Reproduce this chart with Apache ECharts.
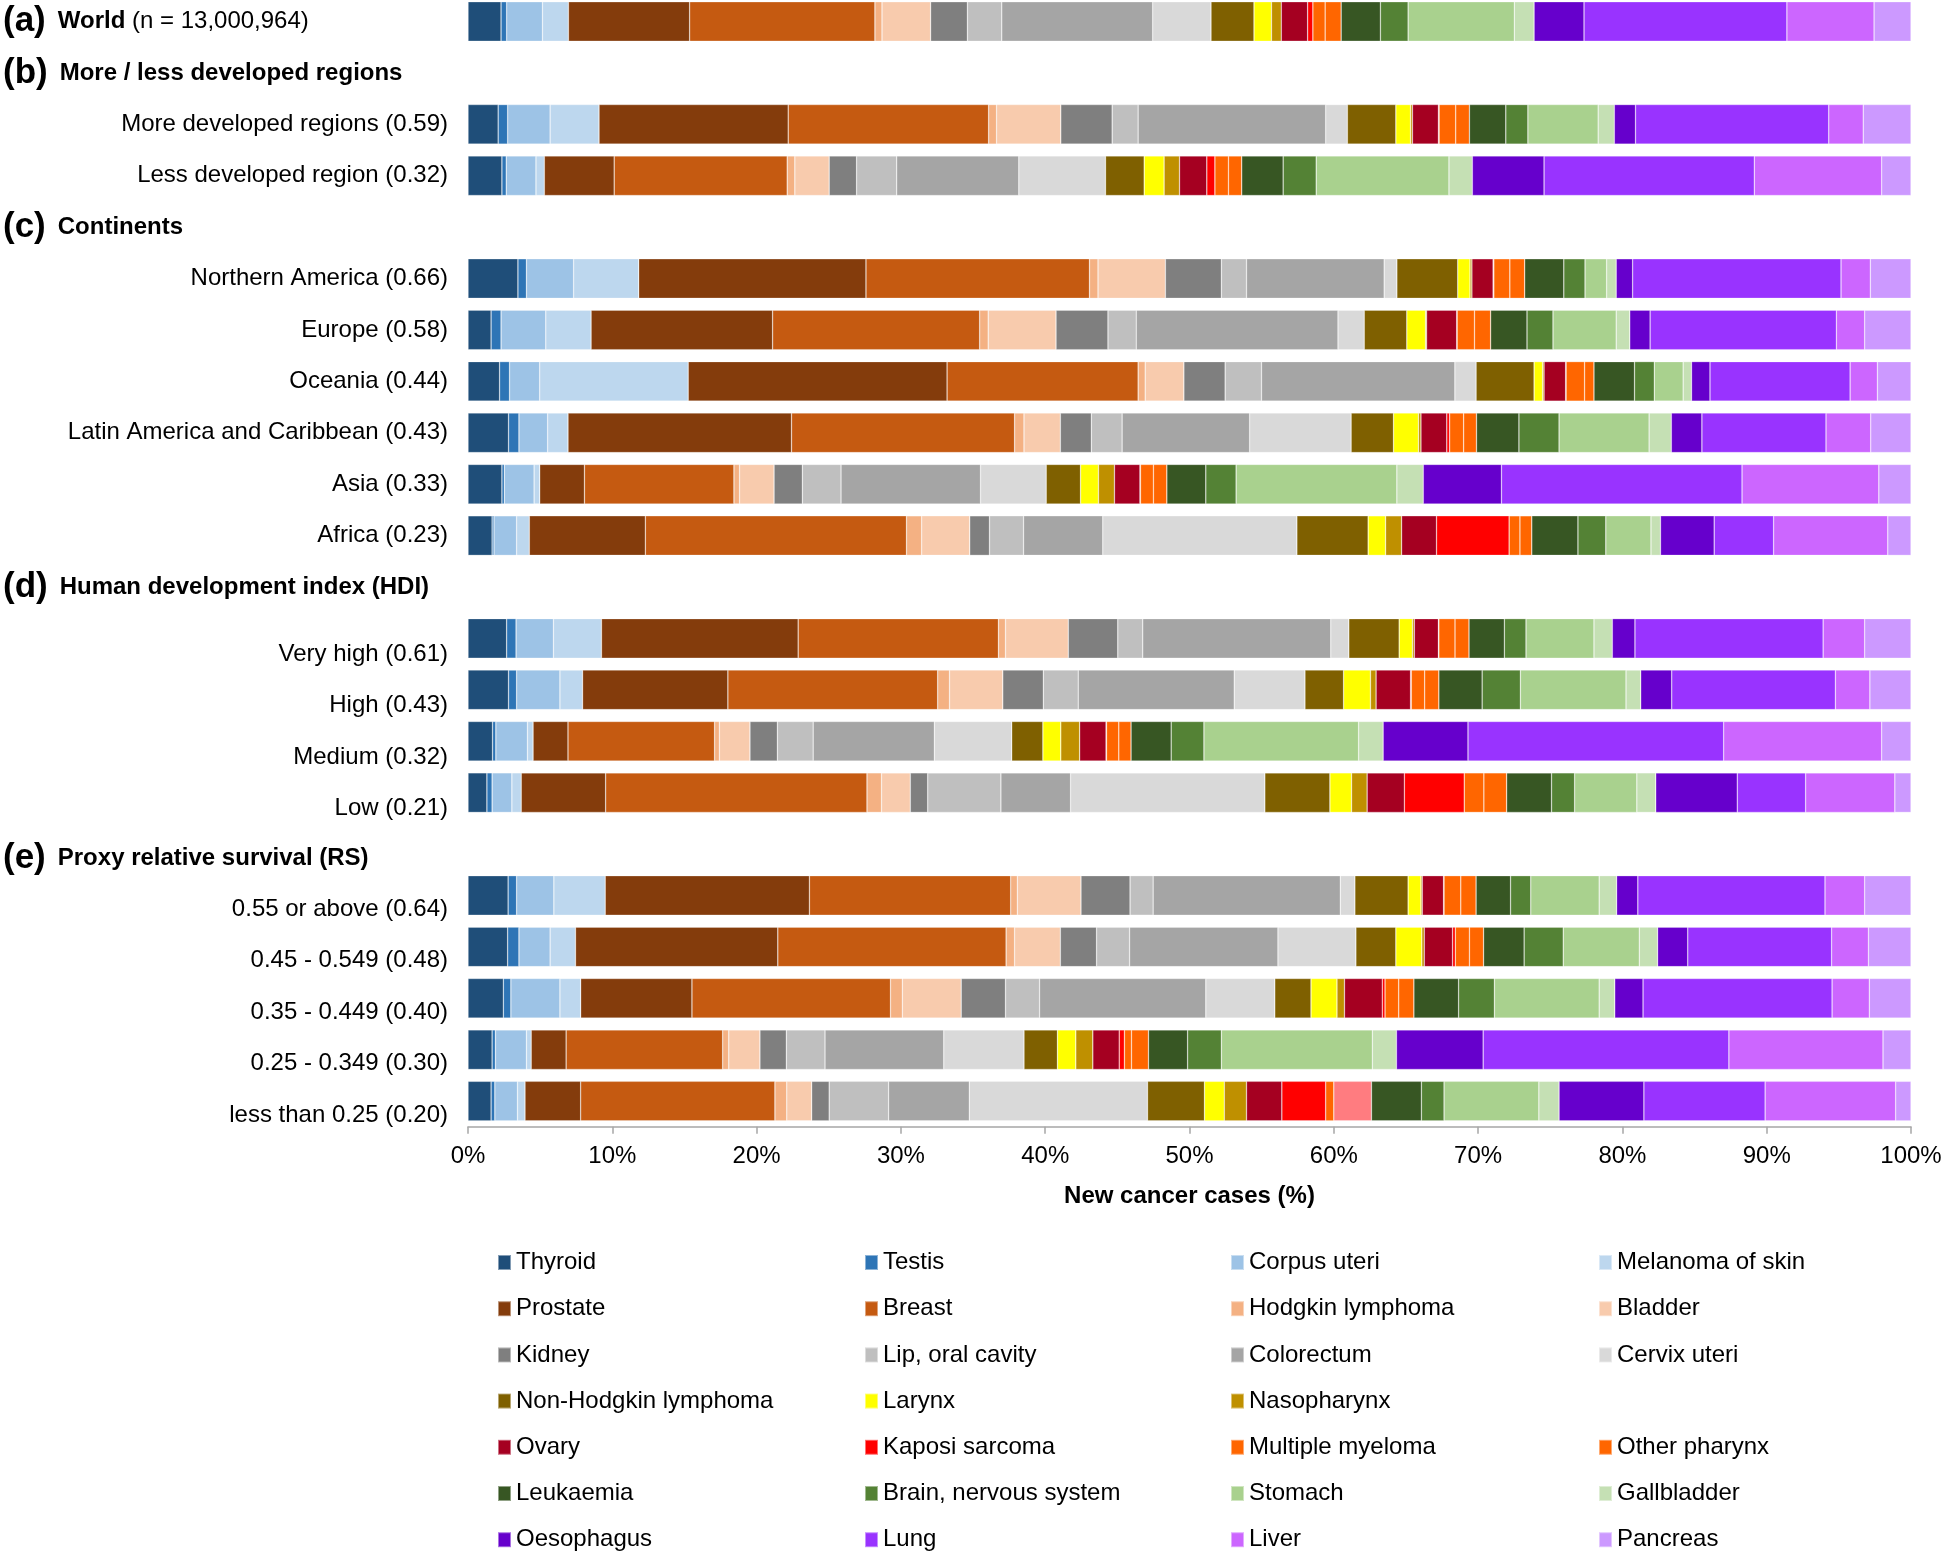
<!DOCTYPE html>
<html>
<head>
<meta charset="utf-8">
<script src="https://cdn.jsdelivr.net/npm/echarts@6/dist/echarts.min.js"></script>
<style>
html,body{margin:0;padding:0;background:#fff;overflow:hidden;}
#wrap{width:1946px;height:1555px;overflow:hidden;position:relative;}
#chart{width:1946px;height:1565px;position:absolute;left:0;top:-10px;}
</style>
</head>
<body>
<div id="wrap"><div id="chart"></div></div>
<script>
// ---------------- DATA ----------------
const cancerSites = ['Thyroid','Testis','Corpus uteri','Melanoma of skin','Prostate','Breast','Hodgkin lymphoma','Bladder',
  'Kidney','Lip, oral cavity','Colorectum','Cervix uteri','Non-Hodgkin lymphoma','Larynx','Nasopharynx','Ovary',
  'Kaposi sarcoma','Multiple myeloma','Other pharynx','Leukaemia','Brain, nervous system','Stomach','Gallbladder',
  'Oesophagus','Lung','Liver','Pancreas'];

const categories = ['World','(b)','More developed regions (0.59)','Less developed region (0.32)','(c)',
  'Northern America (0.66)','Europe (0.58)','Oceania (0.44)','Latin America and Caribbean (0.43)','Asia (0.33)','Africa (0.23)',
  '(d)','Very high (0.61)','High (0.43)','Medium (0.32)','Low (0.21)',
  '(e)','0.55 or above (0.64)','0.45 - 0.549 (0.48)','0.35 - 0.449 (0.40)','0.25 - 0.349 (0.30)','less than 0.25 (0.20)'];

const groupHeaders = {
  'World': ['(a)', 'World', ' (n = 13,000,964)'],
  '(b)': ['(b)', 'More / less developed regions', ''],
  '(c)': ['(c)', 'Continents', ''],
  '(d)': ['(d)', 'Human development index (HDI)', ''],
  '(e)': ['(e)', 'Proxy relative survival (RS)', '']
};

const xTickValues = [0,10,20,30,40,50,60,70,80,90,100];

// percentage of new cases, one value per cancer site (order of cancerSites)
const valWorld    = [2.29,0.39,2.48,1.80,8.40,12.84,0.49,3.37,2.55,2.38,10.46,4.04,2.98,1.21,0.68,1.83,0.36,0.85,1.11,2.72,1.92,7.36,1.37,3.46,14.06,6.04,2.56];
const valMoreDev  = [2.09,0.66,2.94,3.39,13.11,13.89,0.55,4.45,3.56,1.80,13.00,1.50,3.36,1.02,0.13,1.80,0.05,1.15,0.95,2.52,1.53,4.87,1.12,1.47,13.39,2.39,3.31];
const valLessDev  = [2.35,0.30,2.06,0.58,4.84,11.99,0.53,2.38,1.90,2.78,8.46,6.01,2.68,1.38,1.07,1.89,0.56,0.94,0.92,2.87,2.29,9.20,1.62,4.97,14.57,8.83,2.03];
const valNAmerica = [3.46,0.59,3.27,4.51,15.75,15.49,0.59,4.67,3.88,1.74,9.54,0.88,4.22,0.85,0.13,1.47,0.05,1.11,1.03,2.71,1.47,1.50,0.66,1.14,14.44,2.03,2.82];
const valEurope   = [1.60,0.69,3.10,3.14,12.58,14.35,0.59,4.70,3.60,1.96,13.98,1.82,2.95,1.30,0.07,2.09,0.03,1.20,1.12,2.52,1.80,4.38,0.94,1.41,12.91,1.96,3.21];
const valOceania  = [2.19,0.69,2.09,10.29,17.94,13.24,0.49,2.68,2.86,2.52,13.40,1.47,4.02,0.59,0.10,1.50,0.03,1.28,0.65,2.81,1.37,2.00,0.58,1.28,9.71,1.89,2.33];
const valLatAm    = [2.81,0.72,1.99,1.41,15.49,15.46,0.65,2.52,2.15,2.13,8.84,7.03,2.94,1.73,0.17,1.79,0.20,0.97,0.89,2.94,2.78,6.24,1.54,2.12,8.60,3.10,2.79];
const valAsia     = [2.35,0.17,2.06,0.39,3.10,10.36,0.39,2.39,1.96,2.68,9.67,4.55,2.38,1.24,1.11,1.77,0.03,0.90,0.93,2.70,2.10,11.14,1.83,5.42,16.67,9.48,2.23];
const valAfrica   = [1.67,0.13,1.57,0.88,8.04,18.10,1.05,3.33,1.37,2.36,5.49,13.45,4.94,1.21,1.11,2.42,5.03,0.75,0.82,3.20,1.93,3.13,0.66,3.72,4.12,7.91,1.61];
const valHdiVeryHigh = [2.68,0.65,2.59,3.33,13.63,13.88,0.49,4.35,3.43,1.73,13.03,1.25,3.49,0.92,0.13,1.67,0.03,1.12,0.97,2.45,1.50,4.71,1.27,1.57,13.04,2.88,3.21];
const valHdiHigh     = [2.81,0.56,3.00,1.57,10.07,14.54,0.82,3.69,2.81,2.42,10.81,4.90,2.68,1.86,0.39,2.39,0.05,0.93,0.98,3.00,2.65,7.32,1.02,2.15,11.34,2.39,2.85];
const valHdiMedium   = [1.70,0.23,2.19,0.39,2.42,10.16,0.33,2.12,1.90,2.48,8.40,5.36,2.16,1.24,1.31,1.83,0.03,0.85,0.85,2.78,2.27,10.72,1.70,5.88,17.72,10.95,2.03];
const valHdiLow      = [1.31,0.36,1.37,0.65,5.85,18.11,1.01,1.99,1.21,5.07,4.83,13.46,4.51,1.50,1.08,2.58,4.15,1.36,1.58,3.11,1.60,4.31,1.31,5.65,4.74,6.18,1.12];
const valRs055   = [2.78,0.59,2.58,3.56,14.15,13.95,0.46,4.41,3.40,1.60,12.97,1.01,3.69,0.89,0.09,1.48,0.03,1.16,1.06,2.39,1.40,4.74,1.21,1.47,12.97,2.75,3.21];
const valRs045   = [2.75,0.78,2.16,1.76,14.02,15.82,0.59,3.17,2.51,2.29,10.28,5.40,2.77,1.80,0.17,1.96,0.19,0.98,0.98,2.81,2.71,5.27,1.27,2.09,9.97,2.55,2.95];
const valRs035   = [2.45,0.52,3.40,1.44,7.71,13.76,0.82,4.08,3.07,2.36,11.52,4.78,2.51,1.80,0.52,2.62,0.19,0.95,1.05,3.10,2.48,7.26,1.08,1.96,13.10,2.58,2.89];
const valRs025   = [1.67,0.23,2.15,0.33,2.42,10.85,0.42,2.16,1.83,2.68,8.23,5.56,2.32,1.27,1.18,1.83,0.36,0.49,1.18,2.71,2.34,10.46,1.67,6.01,17.03,10.68,1.94];
const valRsLow   = [1.60,0.26,1.57,0.52,3.86,13.46,0.82,1.73,1.21,4.12,5.59,12.35,3.95,1.37,1.54,2.45,3.04,0.56,2.61,3.46,1.57,6.57,1.40,5.88,8.40,9.05,1.06];

const rowValues = {
  'World': valWorld,
  'More developed regions (0.59)': valMoreDev,
  'Less developed region (0.32)': valLessDev,
  'Northern America (0.66)': valNAmerica,
  'Europe (0.58)': valEurope,
  'Oceania (0.44)': valOceania,
  'Latin America and Caribbean (0.43)': valLatAm,
  'Asia (0.33)': valAsia,
  'Africa (0.23)': valAfrica,
  'Very high (0.61)': valHdiVeryHigh,
  'High (0.43)': valHdiHigh,
  'Medium (0.32)': valHdiMedium,
  'Low (0.21)': valHdiLow,
  '0.55 or above (0.64)': valRs055,
  '0.45 - 0.549 (0.48)': valRs045,
  '0.35 - 0.449 (0.40)': valRs035,
  '0.25 - 0.349 (0.30)': valRs025,
  'less than 0.25 (0.20)': valRsLow
};

// ---------------- STYLE ----------------
const siteColors = ['#1F4E79','#2E75B6','#9DC3E6','#BDD7EE','#843C0C','#C55A11','#F4B183','#F8CBAD',
  '#7F7F7F','#BFBFBF','#A5A5A5','#D9D9D9','#7F6000','#FFFF00','#BF9000','#A50021',
  '#FF0000','#FF6600','#FF6600','#375623','#548235','#A9D18E','#C5E0B4',
  '#6600CC','#9933FF','#CC66FF','#CC99FF'];
// single cell drawn in a different colour in the original figure
const cellColorOverrides = [{row: 'less than 0.25 (0.20)', site: 'Other pharynx', color: '#FF7C80'}];

// vertical shift (px) of some labels, as in the original layout
const labelShift = {
  'Very high (0.61)': 16, 'High (0.43)': 16, 'Medium (0.32)': 16, 'Low (0.21)': 16,
  '(e)': 14,
  '0.55 or above (0.64)': 14, '0.45 - 0.549 (0.48)': 14, '0.35 - 0.449 (0.40)': 14,
  '0.25 - 0.349 (0.30)': 14, 'less than 0.25 (0.20)': 14
};

const FONT = "'Liberation Sans', Arial, Helvetica, sans-serif";
const Y0 = 10; // chart canvas is shifted up by this many px

const legendColumns = [
  {left: 497, top: Y0 + 1248.5, items: ['Thyroid','Prostate','Kidney','Non-Hodgkin lymphoma','Ovary','Leukaemia','Oesophagus']},
  {left: 864, top: Y0 + 1248.5, items: ['Testis','Breast','Lip, oral cavity','Larynx','Kaposi sarcoma','Brain, nervous system','Lung']},
  {left: 1230, top: Y0 + 1248.5, items: ['Corpus uteri','Hodgkin lymphoma','Colorectum','Nasopharynx','Multiple myeloma','Stomach','Liver']},
  {left: 1598, top: Y0 + 1248.5, items: ['Melanoma of skin','Bladder','Cervix uteri']},
  {left: 1598, top: Y0 + 1248.5 + 4 * 46.2, items: ['Other pharynx','Gallbladder','Pancreas']}
];

// ---------------- BUILD ----------------
const series = cancerSites.map((site, i) => ({
  name: site,
  type: 'bar',
  stack: 'total',
  yAxisIndex: 0,
  barCategoryGap: '23%',
  itemStyle: {color: siteColors[i], borderColor: 'rgba(255,255,255,0.45)', borderWidth: 0.6},
  emphasis: {disabled: true},
  data: categories.map(cat => {
    const vals = rowValues[cat];
    if (!vals) return null;
    const ov = cellColorOverrides.find(o => o.row === cat && o.site === site);
    if (ov) return {value: vals[i], itemStyle: {color: ov.color}};
    return vals[i];
  })
}));

function shiftPrefix(cat) {
  const s = labelShift[cat];
  return s ? '{pad' + s + '|\u00a0}\n' : '';
}

const rowLabelRich = {t: {fontSize: 24, lineHeight: 28, color: '#000', fontFamily: FONT}};
const headerRich = {
  big: {fontSize: 35, fontWeight: 'bold', lineHeight: 40, color: '#000', fontFamily: FONT},
  gap: {width: 12, lineHeight: 40, fontSize: 24},
  bold: {fontSize: 24, fontWeight: 'bold', lineHeight: 40, color: '#000', fontFamily: FONT},
  reg: {fontSize: 24, lineHeight: 40, color: '#000', fontFamily: FONT}
};
[14, 16].forEach(s => {
  rowLabelRich['pad' + s] = {fontSize: 10, lineHeight: 2 * s};
  headerRich['pad' + s] = {fontSize: 10, lineHeight: 2 * s};
});

const legends = legendColumns.map(col => ({
  orient: 'vertical',
  left: col.left,
  top: col.top,
  padding: 0,
  itemWidth: 13,
  itemHeight: 15,
  itemGap: 18.2,
  icon: 'rect',
  selectedMode: false,
  textStyle: {fontSize: 24, lineHeight: 28, color: '#000', fontFamily: FONT},
  data: col.items
}));

const option = {
  animation: false,
  backgroundColor: '#fff',
  textStyle: {fontFamily: FONT},
  grid: {left: 467, right: 35, top: Y0 - 4.2, height: 1131, containLabel: false},
  legend: legends,
  xAxis: {
    type: 'value',
    min: xTickValues[0],
    max: xTickValues[xTickValues.length - 1],
    interval: xTickValues[1] - xTickValues[0],
    axisLine: {show: true, lineStyle: {color: '#A6A6A6', width: 1.5}},
    axisTick: {show: true, length: 7, lineStyle: {color: '#A6A6A6', width: 1.5}},
    splitLine: {show: false},
    axisLabel: {fontSize: 24, color: '#000', margin: 18, fontFamily: FONT, formatter: '{value}%'},
    name: 'New cancer cases (%)',
    nameLocation: 'middle',
    nameGap: 58,
    nameTextStyle: {fontSize: 24, fontWeight: 'bold', color: '#000', fontFamily: FONT}
  },
  yAxis: [
    {
      type: 'category',
      data: categories,
      inverse: true,
      position: 'left',
      offset: 0,
      axisLine: {show: false},
      axisTick: {show: false},
      splitLine: {show: false},
      axisLabel: {
        interval: 0,
        margin: 20,
        formatter: (v) => groupHeaders[v] || !rowValues[v] ? '' : shiftPrefix(v) + '{t|' + v + '}',
        rich: rowLabelRich
      }
    },
    {
      type: 'category',
      data: categories,
      inverse: true,
      position: 'left',
      offset: 0,
      axisLine: {show: false},
      axisTick: {show: false},
      splitLine: {show: false},
      axisLabel: {
        interval: 0,
        margin: 465,
        align: 'left',
        formatter: (v) => {
          const h = groupHeaders[v];
          if (!h) return '';
          let s = '{big|' + h[0] + '}{gap|\u00a0}{bold|' + h[1] + '}';
          if (h[2]) s += '{reg|' + h[2] + '}';
          return shiftPrefix(v) + s;
        },
        rich: headerRich
      }
    }
  ],
  series: series
};

const chart = echarts.init(document.getElementById('chart'), null, {renderer: 'canvas'});
chart.setOption(option);
</script>
</body>
</html>
